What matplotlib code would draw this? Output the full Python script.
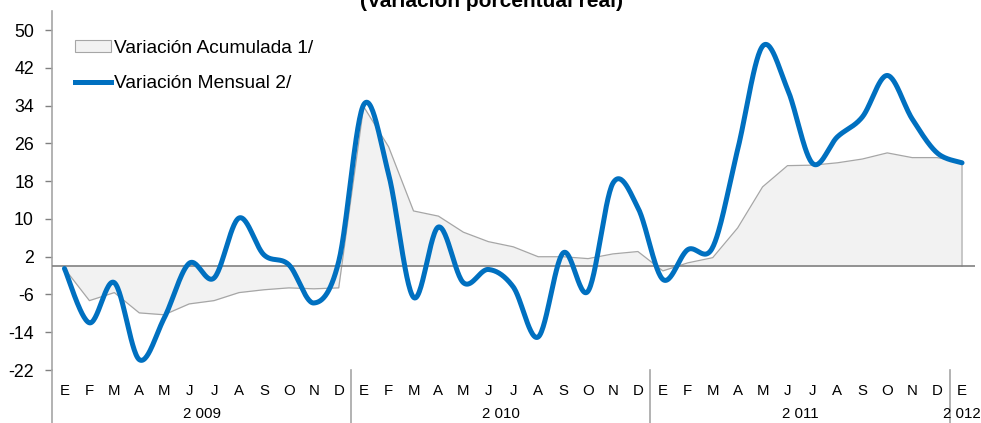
import numpy as np
import matplotlib
matplotlib.use("Agg")
import matplotlib.pyplot as plt
from matplotlib.patches import Patch
from matplotlib.lines import Line2D

plt.rcParams['font.family'] = ['Liberation Sans', 'DejaVu Sans']

months = ["E", "F", "M", "A", "M", "J", "J", "A", "S", "O", "N", "D"] * 3 + ["E"]
years = ["2 009", "2 010", "2 011", "2 012"]
year_sizes = [12, 12, 12, 1]

mensual = [-0.5, -12.0, -3.5, -19.8, -11.0, 0.6, -2.5, 10.2, 2.4, 0.3, -7.8, 1.0,
           34.2, 19.5, -6.6, 8.3, -3.5, -0.7, -4.4, -15.0, 2.8, -5.3, 17.6, 12.4,
           -2.8, 3.5, 4.0, 24.7, 46.6, 37.5, 21.8, 27.4, 31.6, 40.4, 31.2, 24.0,
           21.9]
acumulada = [-0.5, -7.3, -5.6, -9.9, -10.3, -8.0, -7.3, -5.6, -5.0, -4.6, -4.8, -4.6,
             33.8, 25.3, 11.7, 10.6, 7.2, 5.2, 4.1, 2.0, 2.0, 1.6, 2.6, 3.1,
             -1.0, 0.7, 1.8, 8.1, 16.8, 21.3, 21.4, 21.9, 22.7, 24.0, 23.0, 23.0,
             22.0]

yticks = [50, 42, 34, 26, 18, 10, 2, -6, -14, -22]
title = "(Variación porcentual real)"
label_acum = "Variación Acumulada 1/"
label_mens = "Variación Mensual 2/"


def smooth(y, n=30):
    """Excel-like smoothed line (Catmull-Rom Bezier)."""
    y = np.asarray(y, float)
    x = np.arange(len(y), dtype=float)
    P = np.column_stack([x, y])
    out = []
    for i in range(len(P) - 1):
        p0 = P[i - 1] if i > 0 else P[i]
        p1 = P[i]
        p2 = P[i + 1]
        p3 = P[i + 2] if i + 2 < len(P) else P[i + 1]
        c1 = p1 + (p2 - p0) / 6.0
        c2 = p2 - (p3 - p1) / 6.0
        t = np.linspace(0, 1, n, endpoint=(i == len(P) - 2))[:, None]
        seg = ((1 - t) ** 3) * p1 + 3 * ((1 - t) ** 2) * t * c1 + 3 * (1 - t) * t ** 2 * c2 + t ** 3 * p2
        out.append(seg)
    out = np.vstack(out)
    return out[:, 0], out[:, 1]


W, H = 981, 423
fig = plt.figure(figsize=(W / 100, H / 100), dpi=100)
left = 52 / W
right = 974.5 / W
bottom = (H - 370) / H
top = (H - 11.3) / H
ax = fig.add_axes([left, bottom, right - left, top - bottom])
axh = 370 - 11.3

x = np.arange(len(months))
ax.fill_between(x, acumulada, 0, color="#f2f2f2", zorder=1, linewidth=0)
ax.plot(x, acumulada, color="#a6a6a6", lw=0.9, zorder=2)
ax.plot([x[-1], x[-1]], [acumulada[-1], 0], color="#bfbfbf", lw=1.2, zorder=2)
ax.axhline(0, color="#808080", lw=1.2, zorder=3)

sx, sy = smooth(mensual)
ax.plot(sx, sy, color="#0070C0", lw=3.6, zorder=4, solid_capstyle="round")

ax.set_xlim(-0.5, len(months) - 0.5)
ax.set_ylim(-22, 54)
ax.set_yticks(yticks)
ax.set_yticklabels([str(v) for v in yticks], fontsize=12.8)
ax.tick_params(axis="y", length=5, color="#808080", pad=8, width=1)
ax.set_xticks(x)
ax.set_xticklabels(months, fontsize=10.8)
ax.tick_params(axis="x", length=0, pad=10)

for s in ["top", "right", "bottom"]:
    ax.spines[s].set_visible(False)
ax.spines["left"].set_color("#a6a6a6")
ax.spines["left"].set_linewidth(1.2)

# extend left axis line and group separators down through the category labels
trans = ax.get_xaxis_transform()
ybot = -(H - 370) / axh
ax.add_line(Line2D([-0.5, -0.5], [0, ybot], transform=trans, color="#a6a6a6",
                   lw=1.2, clip_on=False))
start = 0
for yr, n in zip(years, year_sizes):
    sep = start + n - 0.5
    if n > 1:
        ax.add_line(Line2D([sep, sep], [0, ybot], transform=trans, color="#a6a6a6",
                           lw=1.2, clip_on=False))
    center = start + (n - 1) / 2
    ax.text(center, -(414 - 370) / axh, yr, transform=trans, ha="center",
            va="center", fontsize=10.8, clip_on=False)
    start += n

fig.text(492 / W, 1 - 7 / H, title, ha="center", va="baseline", fontsize=15,
         fontweight="bold")

handles = [Patch(facecolor="#f2f2f2", edgecolor="#a6a6a6", linewidth=0.8),
           Line2D([], [], color="#0070C0", lw=3.6)]
leg = ax.legend(handles, [label_acum, label_mens], loc="upper left",
                bbox_to_anchor=(75 / W, 1 - 40 / H), bbox_transform=fig.transFigure,
                frameon=False, fontsize=13.8, handlelength=1.9, handleheight=0.55,
                handletextpad=0.15, labelspacing=0.95, borderpad=0, borderaxespad=0)

fig.savefig("out.png", dpi=100)
